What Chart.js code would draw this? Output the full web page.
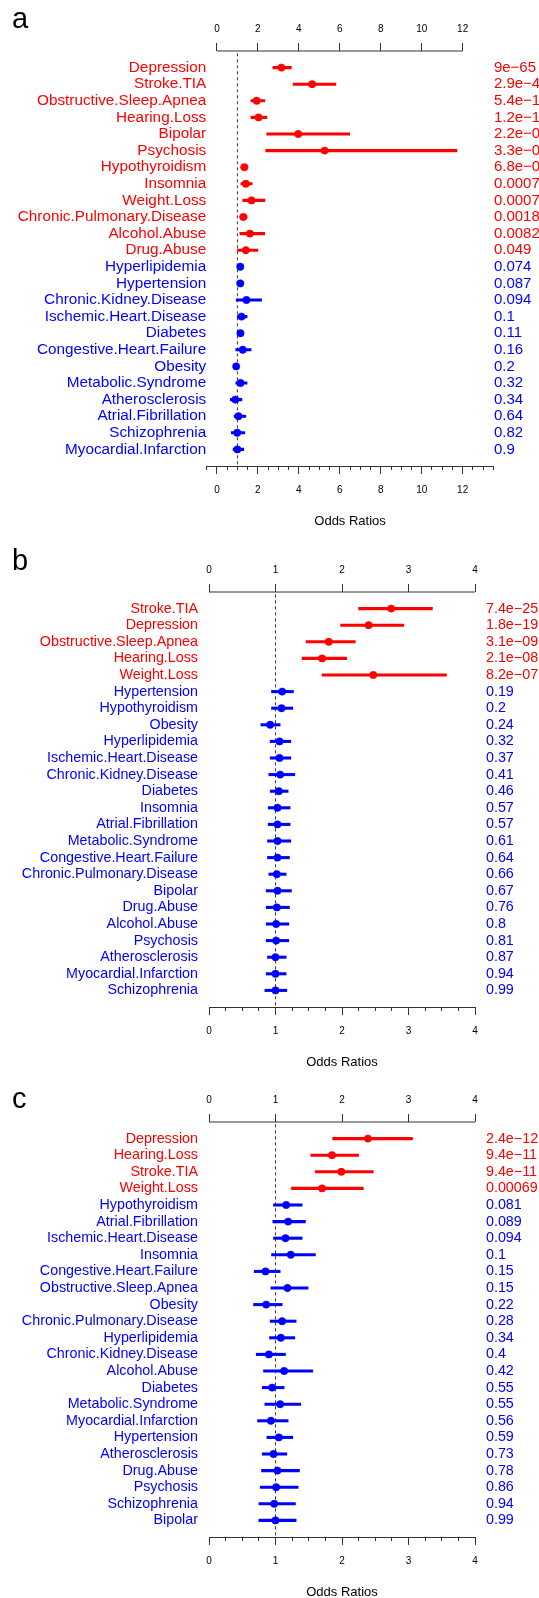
<!DOCTYPE html>
<html>
<head>
<meta charset="utf-8">
<script src="https://cdn.jsdelivr.net/npm/chart.js@4.4.0/dist/chart.umd.min.js"></script>
<style>
  html, body { margin: 0; padding: 0; background: #fff; }
  body { width: 539px; height: 1598px; position: relative; overflow: hidden; }
  canvas { position: absolute; left: 0; }
</style>
</head>
<body>
<canvas id="panelA" width="539" height="530" style="top:0px"></canvas>
<canvas id="panelB" width="539" height="530" style="top:541px"></canvas>
<canvas id="panelC" width="539" height="530" style="top:1071px"></canvas>
<script>

// ---- panel a data ----
var namesA = ["Depression", "Stroke.TIA", "Obstructive.Sleep.Apnea", "Hearing.Loss", "Bipolar", "Psychosis",
    "Hypothyroidism", "Insomnia", "Weight.Loss", "Chronic.Pulmonary.Disease", "Alcohol.Abuse", "Drug.Abuse",
    "Hyperlipidemia", "Hypertension", "Chronic.Kidney.Disease", "Ischemic.Heart.Disease", "Diabetes",
    "Congestive.Heart.Failure", "Obesity", "Metabolic.Syndrome", "Atherosclerosis", "Atrial.Fibrillation",
    "Schizophrenia", "Myocardial.Infarction"];
var oddsA = [3.15, 4.65, 1.94, 2.03, 3.97, 5.26, 1.34, 1.41, 1.69, 1.29, 1.61, 1.41,
    1.14, 1.14, 1.44, 1.2, 1.15, 1.26, 0.94, 1.15, 0.9, 1.05, 0.99, 1.0];
var lowA = [2.73, 3.72, 1.66, 1.66, 2.43, 2.38, 1.17, 1.17, 1.26, 1.12, 1.12, 1.0,
    1.06, 1.07, 0.94, 1.0, 1.03, 0.92, 0.88, 0.92, 0.65, 0.84, 0.7, 0.79];
var highA = [3.63, 5.81, 2.34, 2.44, 6.48, 11.72, 1.51, 1.72, 2.34, 1.47, 2.33, 2.0,
    1.22, 1.21, 2.18, 1.47, 1.28, 1.67, 1.01, 1.47, 1.22, 1.41, 1.36, 1.31];
var pvalA = ["9e\u221265", "2.9e\u221245", "5.4e\u221214", "1.2e\u221214", "2.2e\u221205", "3.3e\u221205",
    "6.8e\u221204", "0.00074", "0.00078", "0.0018", "0.0082", "0.049", "0.074", "0.087", "0.094", "0.1",
    "0.11", "0.16", "0.2", "0.32", "0.34", "0.64", "0.82", "0.9"];
var sigCountA = 12;

// ---- panel b data ----
var namesB = ["Stroke.TIA", "Depression", "Obstructive.Sleep.Apnea", "Hearing.Loss", "Weight.Loss",
    "Hypertension", "Hypothyroidism", "Obesity", "Hyperlipidemia", "Ischemic.Heart.Disease",
    "Chronic.Kidney.Disease", "Diabetes", "Insomnia", "Atrial.Fibrillation", "Metabolic.Syndrome",
    "Congestive.Heart.Failure", "Chronic.Pulmonary.Disease", "Bipolar", "Drug.Abuse", "Alcohol.Abuse",
    "Psychosis", "Atherosclerosis", "Myocardial.Infarction", "Schizophrenia"];
var oddsB = [2.74, 2.40, 1.80, 1.70, 2.47, 1.10, 1.09, 0.92, 1.06, 1.06, 1.07, 1.05,
    1.03, 1.03, 1.03, 1.03, 1.02, 1.03, 1.02, 1.01, 1.01, 1.00, 1.00, 1.00];
var lowB = [2.25, 1.98, 1.46, 1.40, 1.70, 0.94, 0.94, 0.78, 0.92, 0.92, 0.90, 0.92,
    0.89, 0.89, 0.88, 0.88, 0.90, 0.86, 0.86, 0.86, 0.86, 0.88, 0.86, 0.84];
var highB = [3.36, 2.93, 2.20, 2.07, 3.57, 1.27, 1.26, 1.07, 1.23, 1.23, 1.29, 1.19,
    1.22, 1.22, 1.23, 1.21, 1.16, 1.24, 1.21, 1.20, 1.20, 1.16, 1.16, 1.17];
var pvalB = ["7.4e\u221225", "1.8e\u221219", "3.1e\u221209", "2.1e\u221208", "8.2e\u221207", "0.19", "0.2",
    "0.24", "0.32", "0.37", "0.41", "0.46", "0.57", "0.57", "0.61", "0.64", "0.66", "0.67", "0.76", "0.8",
    "0.81", "0.87", "0.94", "0.99"];
var sigCountB = 5;

// ---- panel c data ----
var namesC = ["Depression", "Hearing.Loss", "Stroke.TIA", "Weight.Loss", "Hypothyroidism",
    "Atrial.Fibrillation", "Ischemic.Heart.Disease", "Insomnia", "Congestive.Heart.Failure",
    "Obstructive.Sleep.Apnea", "Obesity", "Chronic.Pulmonary.Disease", "Hyperlipidemia",
    "Chronic.Kidney.Disease", "Alcohol.Abuse", "Diabetes", "Metabolic.Syndrome", "Myocardial.Infarction",
    "Hypertension", "Atherosclerosis", "Drug.Abuse", "Psychosis", "Schizophrenia", "Bipolar"];
var oddsC = [2.39, 1.85, 1.99, 1.70, 1.16, 1.19, 1.15, 1.23, 0.85, 1.18, 0.86, 1.10,
    1.08, 0.90, 1.13, 0.95, 1.07, 0.93, 1.05, 0.97, 1.03, 1.01, 0.98, 1.00];
var lowC = [1.86, 1.53, 1.60, 1.24, 0.97, 0.96, 0.97, 0.94, 0.68, 0.93, 0.67, 0.92,
    0.91, 0.71, 0.82, 0.80, 0.84, 0.73, 0.87, 0.80, 0.79, 0.77, 0.75, 0.75];
var highC = [3.06, 2.25, 2.47, 2.32, 1.40, 1.45, 1.40, 1.60, 1.07, 1.49, 1.10, 1.31,
    1.29, 1.15, 1.56, 1.13, 1.38, 1.19, 1.26, 1.17, 1.36, 1.34, 1.30, 1.31];
var pvalC = ["2.4e\u221212", "9.4e\u221211", "9.4e\u221211", "0.00069", "0.081", "0.089", "0.094", "0.1",
    "0.15", "0.15", "0.22", "0.28", "0.34", "0.4", "0.42", "0.55", "0.55", "0.56", "0.59", "0.73", "0.78",
    "0.86", "0.94", "0.99"];
var sigCountC = 4;

// axis tick labels
var xTicksA = [0, 2, 4, 6, 8, 10, 12];
var xTicksBC = [0, 1, 2, 3, 4];
var refLine = 1; // OR = 1

var RED = "#ff0000";
var BLUE = "#0000ff";
var AXIS = "#333333";
var FONT = "'Liberation Sans', Arial, Helvetica, sans-serif";
var CANVAS_W = 539, CANVAS_H = 530;
var AREA_TOP = 51, AREA_BOTTOM = 466;

Chart.defaults.font.family = FONT;
Chart.defaults.color = "#000";

// fresh tick objects every time: chart.js writes labels into them
function tickList(values) {
    return values.map(function (v) { return { value: v }; });
}

// panel letter (a, b, c) in the top left corner
var panelLetter = {
    id: "panelLetter",
    afterDraw: function (chart, args, opts) {
        var ctx = chart.ctx;
        ctx.save();
        ctx.font = opts.size + "px " + FONT;
        ctx.fillStyle = "#000";
        ctx.textAlign = "left";
        ctx.textBaseline = "alphabetic";
        ctx.fillText(opts.text, opts.x, opts.y);
        ctx.restore();
    },
};

function drawPanel(canvasId, d, lay) {
    var n = d.names.length;
    var rowMax = n + 1;
    var colors = d.names.map(function (name, i) { return i < d.sig ? RED : BLUE; });
    var rowValues = d.names.map(function (name, i) { return i + 1; });
    var minorValues = [];
    for (var k = 0; lay.xMin + k * lay.minorStep <= lay.xMax + 1e-9; k++) {
        minorValues.push(Math.round((lay.xMin + k * lay.minorStep) * 1000) / 1000);
    }

    var ciData = d.names.map(function (name, i) { return { y: i + 1, x: [d.low[i], d.high[i]] }; });
    var orData = d.names.map(function (name, i) { return { x: d.odds[i], y: i + 1 }; });

    var rowAxis = function (pos, labels, fontSize, widthFn) {
        return {
            type: "linear",
            position: pos,
            reverse: true,
            min: 0,
            max: rowMax,
            offset: false,
            afterBuildTicks: function (s) { s.ticks = tickList(rowValues); },
            afterFit: function (s) { s.width = widthFn(); },
            grid: { display: false, drawTicks: false, offset: false },
            border: { display: false },
            ticks: {
                autoSkip: false,
                padding: lay.labelPad,
                font: { size: fontSize },
                color: function (ctx) { return colors[ctx.index]; },
                callback: function (v, i) { return labels[i]; },
            },
        };
    };

    new Chart(document.getElementById(canvasId), {
        type: "scatter",
        plugins: [panelLetter],
        data: {
            datasets: [
                {
                    type: "scatter",
                    order: 0,
                    data: orData,
                    xAxisID: "x",
                    yAxisID: "y",
                    pointRadius: 3.7,
                    pointBorderWidth: 0.5,
                    backgroundColor: colors,
                    borderColor: colors,
                },
                {
                    type: "bar",
                    order: 1,
                    indexAxis: "y",
                    data: ciData,
                    xAxisID: "x",
                    yAxisID: "y",
                    barThickness: 2.4,
                    borderWidth: 0,
                    backgroundColor: colors,
                },
                {
                    // dashed reference line at OR = 1
                    type: "line",
                    order: 2,
                    data: [{ x: refLine, y: 0.14 }, { x: refLine, y: rowMax }],
                    xAxisID: "x",
                    yAxisID: "y",
                    borderColor: AXIS,
                    borderWidth: 1,
                    borderDash: [3, 3],
                    pointRadius: 0,
                },
                {
                    // top axis line, only across the labelled range
                    type: "line",
                    order: 3,
                    data: [{ x: d.xTicks[0], y: 0 }, { x: d.xTicks[d.xTicks.length - 1], y: 0 }],
                    xAxisID: "x",
                    yAxisID: "y",
                    borderColor: AXIS,
                    borderWidth: 1,
                    pointRadius: 0,
                    clip: false,
                },
            ],
        },
        options: {
            responsive: false,
            animation: false,
            events: [],
            layout: { padding: 0 },
            plugins: {
                legend: { display: false },
                tooltip: { enabled: false },
                panelLetter: { text: d.letter, x: 12, y: lay.letterY, size: 29 },
            },
            scales: {
                x: {
                    type: "linear",
                    axis: "x",
                    position: "bottom",
                    min: lay.xMin,
                    max: lay.xMax,
                    afterBuildTicks: function (s) { s.ticks = tickList(minorValues); },
                    afterFit: function (s) { s.height = CANVAS_H - AREA_BOTTOM; },
                    grid: { drawOnChartArea: false, tickLength: 4, tickColor: AXIS, tickWidth: 1 },
                    border: { display: true, color: AXIS, width: 1 },
                    ticks: {
                        autoSkip: false,
                        maxRotation: 0,
                        padding: 14.5,
                        font: { size: 10 },
                        callback: function (v) { return d.xTicks.indexOf(v) >= 0 ? String(v) : ""; },
                    },
                    title: {
                        display: true,
                        text: "Odds Ratios",
                        font: { size: 13 },
                        padding: { top: 0, bottom: 1 },
                    },
                },
                xMajor: {
                    type: "linear",
                    axis: "x",
                    position: { y: rowMax },
                    min: lay.xMin,
                    max: lay.xMax,
                    afterBuildTicks: function (s) { s.ticks = tickList(d.xTicks); },
                    grid: { drawOnChartArea: false, tickLength: 8, tickColor: AXIS, tickWidth: 1 },
                    border: { display: false },
                    ticks: { display: false, autoSkip: false },
                },
                xTop: {
                    type: "linear",
                    axis: "x",
                    position: "top",
                    min: lay.xMin,
                    max: lay.xMax,
                    afterBuildTicks: function (s) { s.ticks = tickList(d.xTicks); },
                    afterFit: function (s) { s.height = AREA_TOP; },
                    grid: { drawOnChartArea: false, tickLength: 8, tickColor: AXIS, tickWidth: 1 },
                    border: { display: false },
                    ticks: {
                        autoSkip: false,
                        maxRotation: 0,
                        padding: 8,
                        font: { size: 10 },
                        callback: function (v) { return String(v); },
                    },
                },
                y: rowAxis("left", d.names, lay.nameSize, function () { return lay.chartLeft; }),
                yP: rowAxis("right", d.pvals, lay.pSize, function () { return CANVAS_W - lay.chartRight; }),
            },
        },
    });
}

drawPanel("panelA",
    { letter: "a", names: namesA, odds: oddsA, low: lowA, high: highA, pvals: pvalA, sig: sigCountA, xTicks: xTicksA },
    { xMin: -0.5, xMax: 13.5, minorStep: 0.5, chartLeft: 206.7, chartRight: 493.4, labelPad: 0.5,
      nameSize: 15.3, pSize: 15, letterY: 28 });
drawPanel("panelB",
    { letter: "b", names: namesB, odds: oddsB, low: lowB, high: highB, pvals: pvalB, sig: sigCountB, xTicks: xTicksBC },
    { xMin: 0, xMax: 4, minorStep: 0.25, chartLeft: 209, chartRight: 475, labelPad: 11,
      nameSize: 14.3, pSize: 14.3, letterY: 29 });
drawPanel("panelC",
    { letter: "c", names: namesC, odds: oddsC, low: lowC, high: highC, pvals: pvalC, sig: sigCountC, xTicks: xTicksBC },
    { xMin: 0, xMax: 4, minorStep: 0.25, chartLeft: 209, chartRight: 475, labelPad: 11,
      nameSize: 14.3, pSize: 14.3, letterY: 37 });
</script>
</body>
</html>
